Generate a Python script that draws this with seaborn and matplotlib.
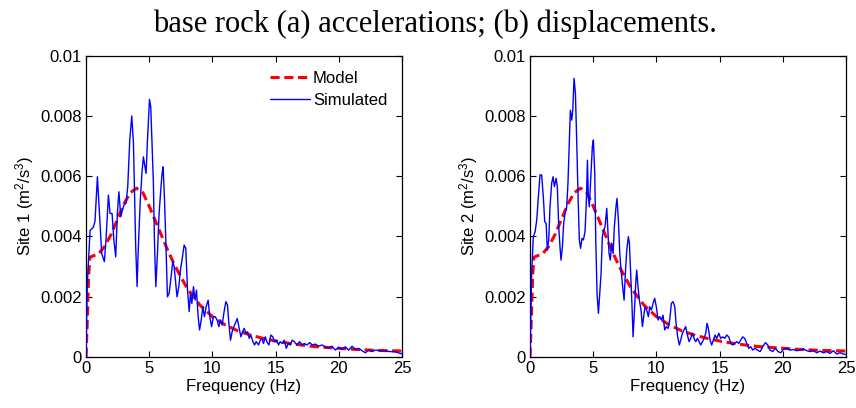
import numpy as np
import pandas as pd
import matplotlib
matplotlib.use("Agg")
import matplotlib.pyplot as plt
import seaborn as sns

# Model spectrum (same base-rock model for both sites), units 1e-3 m^2/s^3
model_freq = [0, 0.1, 0.2, 0.3, 0.5, 1.0, 1.5, 2.0, 2.5, 3.0, 3.5, 4.0, 4.5,
              5.0, 5.5, 6.0, 6.5, 7.0, 7.5, 8.0, 9, 10, 11, 12, 13, 14, 15,
              16, 17, 18, 19, 20, 21, 22, 23, 24, 25]
model_val = [0, 1.2, 2.6, 3.3, 3.34, 3.42, 3.68, 4.08, 4.58, 5.08, 5.45, 5.6,
             5.45, 5.0, 4.5, 4.0, 3.5, 3.05, 2.65, 2.28, 1.72, 1.33, 1.06,
             0.86, 0.72, 0.61, 0.52, 0.45, 0.39, 0.34, 0.31, 0.28, 0.25,
             0.23, 0.21, 0.2, 0.19]

# Simulated spectrum, site 1
site1_freq = [0, 0.1, 0.32, 0.58, 0.71, 0.9, 1.06, 1.24, 1.45, 1.58, 1.77,
              1.9, 2.06, 2.2, 2.35, 2.48, 2.6, 2.75, 2.88, 3.0, 3.17, 3.3,
              3.46, 3.62, 3.75, 3.83, 3.93, 4.04, 4.12, 4.28, 4.43, 4.54,
              4.62, 4.75, 4.86, 5.02, 5.12, 5.23, 5.33, 5.41, 5.52, 5.65,
              5.78, 5.91, 6.02, 6.1, 6.2, 6.31, 6.44, 6.57, 6.7, 6.86, 6.97,
              7.1, 7.2, 7.34, 7.47, 7.63, 7.76, 7.89, 8.03, 8.16, 8.26, 8.37,
              8.5, 8.63, 8.74, 8.87, 8.98, 9.11, 9.24, 9.37, 9.5, 9.66, 9.79,
              9.93, 10.08, 10.22, 10.37, 10.5, 10.64, 10.77, 10.9, 11.06,
              11.19, 11.3, 11.43, 11.56, 11.7, 11.85, 11.96, 12.09, 12.25,
              12.38, 12.51, 12.65, 12.78, 12.91, 13.04, 13.2, 13.33, 13.46,
              13.65, 13.78, 13.91, 14.04, 14.18, 14.3, 14.47, 14.62, 14.78,
              14.9, 15.07, 15.23, 15.36, 15.52, 15.68, 15.84, 16.0, 16.16,
              16.31, 16.47, 16.68, 16.9, 17.08, 17.27, 17.48, 17.69, 17.9,
              18.14, 18.4, 18.66, 18.93, 19.19, 19.46, 19.72, 19.98, 20.25,
              20.51, 20.78, 21.04, 21.3, 21.57, 21.83, 22.1, 22.36, 22.62,
              22.89, 23.28, 23.68, 24.08, 24.47, 24.87, 25.0]
site1_val = [0, 2.4, 4.2, 4.3, 4.5, 5.98, 4.76, 3.43, 3.16, 3.88, 5.37, 4.76,
             4.76, 3.88, 3.32, 4.76, 5.48, 4.65, 4.87, 5.04, 5.1, 5.65, 7.2,
             8.0, 7.09, 5.54, 3.65, 2.33, 3.43, 5.1, 6.15, 6.64, 6.42, 6.09,
             7.2, 8.55, 8.3, 6.98, 5.76, 3.88, 2.33, 3.43, 4.76, 5.54, 6.09,
             6.31, 5.32, 3.88, 1.99, 2.1, 2.55, 3.16, 2.99, 2.44, 1.99, 2.33,
             2.88, 3.32, 3.71, 3.6, 2.21, 1.5, 2.1, 1.77, 2.33, 1.88, 2.21,
             1.33, 0.89, 1.22, 1.66, 1.33, 1.66, 1.88, 1.33, 1.0, 1.33, 1.33,
             1.22, 1.0, 1.22, 1.05, 1.44, 1.83, 1.72, 1.11, 0.55, 0.83, 1.0,
             1.16, 1.27, 1.0, 0.66, 0.83, 0.94, 0.78, 0.83, 0.61, 0.72, 0.5,
             0.39, 0.5, 0.39, 0.55, 0.61, 0.44, 0.66, 0.5, 0.39, 0.72, 0.66,
             0.5, 0.55, 0.39, 0.5, 0.44, 0.55, 0.28, 0.44, 0.39, 0.55, 0.5,
             0.39, 0.5, 0.39, 0.44, 0.39, 0.47, 0.39, 0.42, 0.35, 0.39, 0.33,
             0.28, 0.35, 0.22, 0.31, 0.24, 0.33, 0.22, 0.35, 0.24, 0.28, 0.2,
             0.13, 0.22, 0.17, 0.22, 0.2, 0.19, 0.17, 0.16, 0.11, 0.09]

# Simulated spectrum, site 2
site2_freq = [0, 0.13, 0.26, 0.4, 0.53, 0.66, 0.79, 0.92, 1.05, 1.16, 1.27,
              1.37, 1.48, 1.58, 1.71, 1.82, 1.93, 2.06, 2.16, 2.27, 2.37,
              2.45, 2.56, 2.66, 2.77, 2.9, 3.0, 3.11, 3.19, 3.3, 3.38, 3.48,
              3.59, 3.69, 3.8, 3.9, 4.0, 4.11, 4.22, 4.35, 4.46, 4.54, 4.61,
              4.69, 4.8, 4.93, 5.01, 5.12, 5.2, 5.3, 5.41, 5.51, 5.62, 5.72,
              5.83, 5.93, 6.07, 6.14, 6.25, 6.35, 6.46, 6.57, 6.67, 6.8, 6.88,
              6.99, 7.1, 7.2, 7.3, 7.44, 7.54, 7.65, 7.78, 7.86, 7.96, 8.07,
              8.15, 8.25, 8.36, 8.44, 8.54, 8.65, 8.78, 8.89, 8.99, 9.1, 9.23,
              9.36, 9.47, 9.6, 9.73, 9.86, 9.99, 10.13, 10.26, 10.39, 10.52,
              10.65, 10.79, 10.92, 11.05, 11.18, 11.31, 11.45, 11.55, 11.68,
              11.81, 11.92, 12.05, 12.18, 12.31, 12.45, 12.58, 12.71, 12.84,
              12.97, 13.11, 13.24, 13.37, 13.5, 13.64, 13.77, 13.9, 14.0,
              14.11, 14.24, 14.37, 14.5, 14.64, 14.77, 14.93, 15.08, 15.24,
              15.4, 15.56, 15.72, 15.88, 16.03, 16.19, 16.35, 16.51, 16.67,
              16.82, 16.98, 17.14, 17.3, 17.46, 17.62, 17.8, 17.99, 18.2,
              18.41, 18.62, 18.8, 18.99, 19.2, 19.41, 19.62, 19.83, 20.04,
              20.31, 20.57, 20.83, 21.1, 21.36, 21.62, 21.89, 22.15, 22.42,
              22.68, 22.94, 23.21, 23.47, 23.73, 24.0, 24.26, 24.52, 24.79,
              25.0]
site2_val = [0, 2.77, 3.99, 4.15, 4.54, 5.32, 6.04, 6.04, 5.32, 4.49, 4.43,
             3.54, 3.88, 4.98, 5.76, 5.98, 5.65, 5.93, 5.65, 4.32, 3.65, 3.21,
             3.65, 4.43, 4.76, 4.98, 5.76, 7.2, 8.19, 7.86, 8.19, 9.25, 8.75,
             7.2, 5.32, 3.88, 3.6, 3.93, 3.88, 4.15, 5.2, 6.53, 5.32, 4.98,
             5.87, 6.98, 7.2, 6.09, 3.88, 2.1, 1.44, 2.1, 2.77, 3.99, 4.21,
             4.32, 4.93, 4.32, 3.43, 3.21, 3.77, 3.43, 4.32, 4.98, 5.26, 4.54,
             3.43, 2.88, 2.44, 1.88, 2.77, 3.54, 3.99, 3.77, 2.77, 1.66, 0.66,
             1.44, 2.44, 2.88, 2.33, 1.88, 1.55, 1.0, 1.33, 1.66, 1.55, 1.33,
             1.66, 1.55, 1.77, 1.94, 1.66, 1.22, 1.33, 1.22, 1.38, 0.89, 1.0,
             0.94, 1.22, 1.77, 1.83, 1.66, 1.11, 0.66, 0.39, 0.55, 0.78, 0.89,
             1.0, 0.72, 0.5, 0.61, 0.78, 0.61, 0.5, 0.61, 0.5, 0.39, 0.5,
             0.61, 0.78, 1.11, 0.94, 0.55, 0.39, 0.55, 0.72, 0.61, 0.78, 0.61,
             0.66, 0.61, 0.72, 0.66, 0.44, 0.39, 0.44, 0.5, 0.44, 0.55, 0.66,
             0.61, 0.44, 0.28, 0.33, 0.22, 0.28, 0.22, 0.17, 0.33, 0.47, 0.39,
             0.22, 0.17, 0.28, 0.17, 0.13, 0.24, 0.28, 0.22, 0.24, 0.2, 0.22,
             0.26, 0.2, 0.17, 0.2, 0.13, 0.19, 0.13, 0.17, 0.11, 0.2, 0.09,
             0.13, 0.09, 0.07]

y_ticks = [0, 0.002, 0.004, 0.006, 0.008, 0.01]
x_ticks = [0, 5, 10, 15, 20, 25]
site_labels = ["Site 1 (m$^2$/s$^3$)", "Site 2 (m$^2$/s$^3$)"]
title_text = "base rock (a) accelerations; (b) displacements."

sns.set_style("ticks")
plt.rcParams["font.family"] = ["Liberation Sans", "DejaVu Sans"]
plt.rcParams["mathtext.fontset"] = "custom"
plt.rcParams["mathtext.rm"] = "Liberation Sans"
plt.rcParams["mathtext.it"] = "Liberation Sans"
plt.rcParams["text.color"] = "black"
plt.rcParams["axes.labelcolor"] = "black"
plt.rcParams["xtick.color"] = "black"
plt.rcParams["ytick.color"] = "black"

fig = plt.figure(figsize=(8.56, 4.08), dpi=100)
ax_pos = [[0.1005, 0.1257, 0.3692, 0.7377], [0.6192, 0.1257, 0.3692, 0.7377]]

model_df = pd.DataFrame({"f": model_freq, "v": np.array(model_val) * 1e-3})
sims = [pd.DataFrame({"f": site1_freq, "v": np.array(site1_val) * 1e-3}),
        pd.DataFrame({"f": site2_freq, "v": np.array(site2_val) * 1e-3})]

for i, (pos, sim, ylab) in enumerate(zip(ax_pos, sims, site_labels)):
    ax = fig.add_axes(pos)
    sns.lineplot(data=model_df, x="f", y="v", ax=ax, color="#ff0000",
                 linewidth=2.2, linestyle=(0, (3.0, 1.5)), label="Model",
                 zorder=2)
    sns.lineplot(data=sim, x="f", y="v", ax=ax, color="#0000ff",
                 linewidth=1.0, label="Simulated", zorder=3)
    ax.set_xlim(0, 25)
    ax.set_ylim(0, 0.01)
    ax.set_xticks(x_ticks)
    ax.set_yticks(y_ticks)
    ax.set_yticklabels(["%g" % t for t in y_ticks])
    ax.tick_params(direction="in", length=4, width=0.8, top=True, right=True,
                   labelsize=12, pad=3, colors="black")
    for s in ax.spines.values():
        s.set_visible(True)
        s.set_linewidth(0.9)
        s.set_color("black")
    ax.set_xlabel("Frequency (Hz)", fontsize=12, labelpad=2)
    ax.set_ylabel(ylab, fontsize=12, labelpad=3)
    if i == 0:
        ax.legend(loc="upper right", bbox_to_anchor=(0.99, 0.988),
                  frameon=False, fontsize=12, handlelength=2.4,
                  handletextpad=0.2, labelspacing=0.4, borderaxespad=0.3)
    else:
        ax.get_legend().remove()

fig.text(0.508, 0.94, title_text, ha="center", va="center", fontsize=22,
         color="black", family=["Liberation Serif", "DejaVu Serif"])

fig.savefig("out.png", dpi=100)
